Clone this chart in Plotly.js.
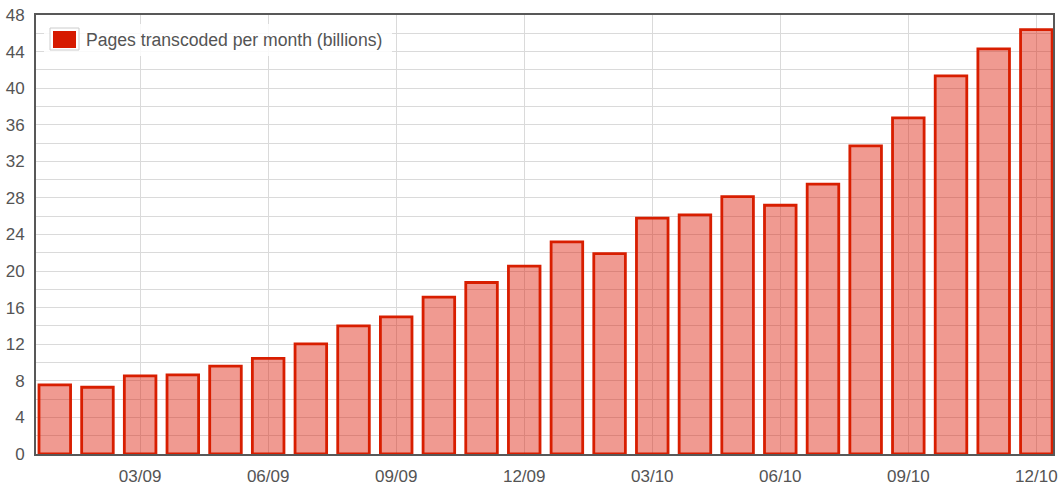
<!DOCTYPE html>
<html>
<head>
<meta charset="utf-8">
<script src="https://cdn.plot.ly/plotly-3.0.1.min.js"></script>
<style>
  html, body { margin: 0; padding: 0; background: #fff; }
  #chart { width: 1063px; height: 486px; }
</style>
</head>
<body>
<div id="chart"></div>
<script>
// ---- data ----
const months = ['01/09','02/09','03/09','04/09','05/09','06/09','07/09','08/09','09/09','10/09','11/09','12/09',
                '01/10','02/10','03/10','04/10','05/10','06/10','07/10','08/10','09/10','10/10','11/10','12/10'];
const pagesBillions = [7.55, 7.3, 8.55, 8.65, 9.6, 10.45, 12.05, 14.0, 15.0, 17.15, 18.75, 20.55,
                       23.2, 21.9, 25.8, 26.15, 28.15, 27.2, 29.5, 33.7, 36.75, 41.35, 44.3, 46.4];
const xTickLabels = ['03/09','06/09','09/09','12/09','03/10','06/10','09/10','12/10'];
const seriesName = 'Pages transcoded per month (billions)';

// ---- layout helpers (pixel -> paper) ----
const W = 1063, H = 486;
const M = {l: 36, r: 10, t: 15, b: 32};
const PW = W - M.l - M.r, PH = H - M.t - M.b;
const px = v => (v - M.l) / PW;
const py = v => (H - M.b - v) / PH;

const font = 'Liberation Sans, Arial, Helvetica, sans-serif';
const textColor = '#545454';
const gridColor = '#dadada';

const trace = {
  type: 'bar',
  x: months,
  y: pagesBillions,
  width: 0.74,
  name: seriesName,
  showlegend: false,
  hoverinfo: 'none',
  marker: {
    color: 'rgba(220,20,0,0.43)',
    line: {color: '#d81e00', width: 2.8}
  }
};

const layout = {
  width: W, height: H,
  margin: M,
  paper_bgcolor: '#ffffff',
  plot_bgcolor: '#ffffff',
  font: {family: font, size: 17, color: textColor},
  showlegend: false,
  bargap: 0,
  xaxis: {
    type: 'category',
    categoryorder: 'array',
    categoryarray: months,
    range: [-0.44, 23.39],
    tickmode: 'array',
    tickvals: xTickLabels,
    ticktext: xTickLabels,
    ticks: '',
    ticklabelstandoff: 6,
    tickfont: {family: font, size: 17, color: textColor},
    showgrid: true,
    gridcolor: gridColor,
    gridwidth: 1,
    zeroline: false,
    showline: true,
    mirror: true,
    linecolor: '#585858',
    linewidth: 2,
    fixedrange: true
  },
  yaxis: {
    range: [0, 48],
    dtick: 4,
    tick0: 0,
    ticks: '',
    ticklabelstandoff: 6,
    tickfont: {family: font, size: 17, color: textColor},
    showgrid: true,
    gridcolor: gridColor,
    gridwidth: 1,
    minor: {dtick: 2, tick0: 0, showgrid: true, gridcolor: gridColor, gridwidth: 1, ticks: ''},
    zeroline: false,
    showline: true,
    mirror: true,
    linecolor: '#585858',
    linewidth: 2,
    fixedrange: true
  },
  shapes: [
    // legend background
    {type: 'rect', xref: 'paper', yref: 'paper', layer: 'above',
     x0: px(44), x1: px(392), y0: py(56), y1: py(24),
     fillcolor: 'rgba(255,255,255,0.85)', line: {width: 0}},
    // swatch frame
    {type: 'rect', xref: 'paper', yref: 'paper', layer: 'above',
     x0: px(50), x1: px(79), y0: py(50), y1: py(28),
     fillcolor: '#ffffff', line: {color: '#cccccc', width: 1}},
    // swatch
    {type: 'rect', xref: 'paper', yref: 'paper', layer: 'above',
     x0: px(53), x1: px(76), y0: py(48), y1: py(31),
     fillcolor: '#d61a00', line: {width: 0}}
  ],
  annotations: [
    {xref: 'paper', yref: 'paper', x: px(84), y: py(40),
     xanchor: 'left', yanchor: 'middle', showarrow: false,
     text: seriesName,
     font: {family: font, size: 17.6, color: textColor}}
  ]
};

Plotly.newPlot('chart', [trace], layout, {displayModeBar: false, staticPlot: true});
</script>
</body>
</html>
